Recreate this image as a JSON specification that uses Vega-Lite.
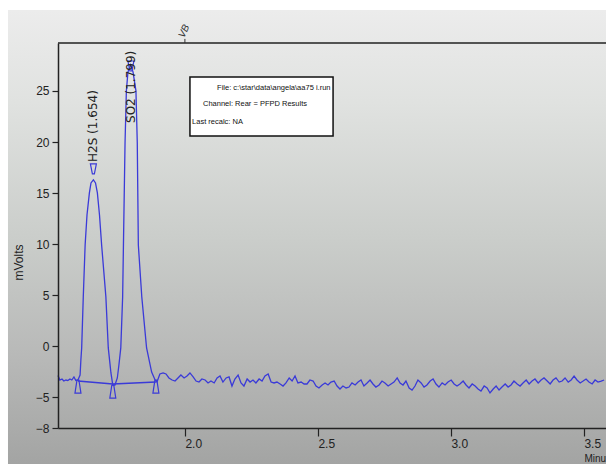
{
  "$schema": "https://vega.github.io/schema/vega-lite/v6.json",
  "width": 548,
  "height": 385,
  "autosize": {"type": "none"},
  "padding": {"left": 58, "top": 43, "right": 0, "bottom": 36},
  "background": "white",
  "config": {"view": {"stroke": null}},
  "datasets": {
    "trace": [
      {"t":1.523,"mv":-2.85},{"t":1.530,"mv":-3.3},{"t":1.538,"mv":-3.2},{"t":1.545,"mv":-3.4},{"t":1.553,"mv":-3.3},{"t":1.560,"mv":-3.35},{"t":1.568,"mv":-3.2},{"t":1.575,"mv":-3.3},{"t":1.583,"mv":-3.0},{"t":1.590,"mv":-3.35},{"t":1.598,"mv":-3.3},
      {"t":1.606,"mv":-2.81},{"t":1.609,"mv":-1.34},{"t":1.612,"mv":-0.16},{"t":1.618,"mv":4.83},{"t":1.625,"mv":9.92},{"t":1.632,"mv":12.86},{"t":1.641,"mv":15.02},{"t":1.647,"mv":16.0},{"t":1.656,"mv":16.29},{"t":1.664,"mv":16.0},{"t":1.671,"mv":15.02},{"t":1.679,"mv":12.86},{"t":1.687,"mv":9.92},{"t":1.703,"mv":4.83},{"t":1.712,"mv":-0.16},{"t":1.722,"mv":-2.61},{"t":1.729,"mv":-3.79},{"t":1.737,"mv":-3.79},{"t":1.746,"mv":-3.1},{"t":1.752,"mv":-1.83},{"t":1.759,"mv":-0.16},{"t":1.766,"mv":4.83},{"t":1.769,"mv":9.92},{"t":1.775,"mv":19.91},{"t":1.780,"mv":25.01},{"t":1.786,"mv":26.87},{"t":1.796,"mv":27.55},{"t":1.805,"mv":26.87},{"t":1.816,"mv":25.01},{"t":1.821,"mv":19.91},{"t":1.825,"mv":9.92},{"t":1.838,"mv":4.83},{"t":1.856,"mv":-0.16},{"t":1.875,"mv":-2.52},{"t":1.888,"mv":-3.3},
      {"t":1.895,"mv":-3.50},{"t":1.906,"mv":-2.71},{"t":1.918,"mv":-2.61},{"t":1.929,"mv":-2.71},{"t":1.940,"mv":-3.10},{"t":1.952,"mv":-3.30},{"t":1.963,"mv":-3.40},{"t":1.974,"mv":-3.10},{"t":1.985,"mv":-2.81},{"t":1.997,"mv":-3.10},
      {"t":2.008,"mv":-2.91},{"t":2.019,"mv":-2.61},{"t":2.031,"mv":-3.00},{"t":2.042,"mv":-3.40},{"t":2.053,"mv":-3.50},{"t":2.064,"mv":-3.20},{"t":2.076,"mv":-3.30},{"t":2.087,"mv":-3.59},{"t":2.098,"mv":-3.40},{"t":2.110,"mv":-3.59},
      {"t":2.121,"mv":-3.10},{"t":2.132,"mv":-2.91},{"t":2.143,"mv":-3.50},{"t":2.155,"mv":-3.10},{"t":2.166,"mv":-3.00},{"t":2.177,"mv":-3.89},{"t":2.188,"mv":-3.20},{"t":2.200,"mv":-2.81},{"t":2.211,"mv":-3.59},{"t":2.222,"mv":-3.89},
      {"t":2.234,"mv":-3.20},{"t":2.245,"mv":-3.50},{"t":2.256,"mv":-3.30},{"t":2.267,"mv":-3.59},{"t":2.279,"mv":-3.20},{"t":2.290,"mv":-3.40},{"t":2.301,"mv":-2.91},{"t":2.313,"mv":-2.71},{"t":2.324,"mv":-3.50},{"t":2.335,"mv":-3.59},
      {"t":2.346,"mv":-3.50},{"t":2.358,"mv":-3.69},{"t":2.369,"mv":-3.89},{"t":2.380,"mv":-3.59},{"t":2.392,"mv":-3.10},{"t":2.403,"mv":-3.40},{"t":2.414,"mv":-2.91},{"t":2.425,"mv":-3.59},{"t":2.437,"mv":-3.50},{"t":2.448,"mv":-3.69},
      {"t":2.459,"mv":-3.69},{"t":2.470,"mv":-3.30},{"t":2.482,"mv":-3.40},{"t":2.493,"mv":-3.89},{"t":2.504,"mv":-4.08},{"t":2.516,"mv":-3.79},{"t":2.527,"mv":-3.59},{"t":2.538,"mv":-3.79},{"t":2.549,"mv":-3.50},{"t":2.561,"mv":-3.40},
      {"t":2.572,"mv":-3.89},{"t":2.583,"mv":-4.18},{"t":2.594,"mv":-3.89},{"t":2.606,"mv":-4.08},{"t":2.617,"mv":-3.99},{"t":2.628,"mv":-3.59},{"t":2.640,"mv":-3.79},{"t":2.651,"mv":-3.50},{"t":2.662,"mv":-3.30},{"t":2.673,"mv":-3.89},
      {"t":2.685,"mv":-3.59},{"t":2.696,"mv":-3.30},{"t":2.707,"mv":-3.69},{"t":2.718,"mv":-3.99},{"t":2.730,"mv":-3.79},{"t":2.741,"mv":-3.40},{"t":2.752,"mv":-3.59},{"t":2.764,"mv":-3.89},{"t":2.775,"mv":-3.69},{"t":2.786,"mv":-3.50},
      {"t":2.798,"mv":-3.10},{"t":2.809,"mv":-3.59},{"t":2.820,"mv":-3.79},{"t":2.831,"mv":-3.40},{"t":2.843,"mv":-4.08},{"t":2.854,"mv":-4.28},{"t":2.865,"mv":-3.89},{"t":2.876,"mv":-3.30},{"t":2.888,"mv":-3.59},{"t":2.899,"mv":-3.99},
      {"t":2.910,"mv":-3.79},{"t":2.922,"mv":-3.40},{"t":2.933,"mv":-3.20},{"t":2.944,"mv":-3.69},{"t":2.955,"mv":-3.99},{"t":2.967,"mv":-3.59},{"t":2.978,"mv":-3.79},{"t":2.989,"mv":-3.50},{"t":3.001,"mv":-3.30},{"t":3.012,"mv":-3.69},
      {"t":3.023,"mv":-3.89},{"t":3.034,"mv":-3.69},{"t":3.046,"mv":-3.40},{"t":3.057,"mv":-3.79},{"t":3.068,"mv":-4.08},{"t":3.080,"mv":-3.69},{"t":3.091,"mv":-3.89},{"t":3.102,"mv":-4.18},{"t":3.113,"mv":-4.38},{"t":3.125,"mv":-3.89},
      {"t":3.136,"mv":-4.08},{"t":3.147,"mv":-4.57},{"t":3.159,"mv":-4.18},{"t":3.170,"mv":-3.89},{"t":3.181,"mv":-4.28},{"t":3.192,"mv":-3.99},{"t":3.204,"mv":-3.69},{"t":3.215,"mv":-3.99},{"t":3.226,"mv":-3.79},{"t":3.237,"mv":-3.40},
      {"t":3.249,"mv":-3.69},{"t":3.260,"mv":-3.89},{"t":3.271,"mv":-3.59},{"t":3.283,"mv":-3.30},{"t":3.294,"mv":-3.69},{"t":3.305,"mv":-3.40},{"t":3.316,"mv":-3.20},{"t":3.328,"mv":-3.59},{"t":3.339,"mv":-3.30},{"t":3.350,"mv":-3.10},
      {"t":3.362,"mv":-3.40},{"t":3.373,"mv":-3.69},{"t":3.384,"mv":-3.30},{"t":3.395,"mv":-3.10},{"t":3.407,"mv":-3.50},{"t":3.418,"mv":-3.40},{"t":3.429,"mv":-3.10},{"t":3.441,"mv":-3.50},{"t":3.452,"mv":-3.30},{"t":3.463,"mv":-2.91},
      {"t":3.474,"mv":-3.30},{"t":3.486,"mv":-3.59},{"t":3.497,"mv":-3.40},{"t":3.508,"mv":-3.20},{"t":3.519,"mv":-3.50},{"t":3.531,"mv":-3.69},{"t":3.542,"mv":-3.30},{"t":3.553,"mv":-3.50},{"t":3.565,"mv":-3.40},{"t":3.576,"mv":-3.30}
    ],
    "baseline": [{"t":1.598,"mv":-3.40},{"t":1.729,"mv":-3.69},{"t":1.891,"mv":-3.50}],
    "markers": [
      {"t":1.656,"mv":17.37,"kind":"apex"},
      {"t":1.797,"mv":27.45,"kind":"apex"},
      {"t":1.598,"mv":-3.94,"kind":"base"},
      {"t":1.729,"mv":-4.43,"kind":"base"},
      {"t":1.891,"mv":-3.94,"kind":"base"}
    ],
    "peaks": [
      {"label":"H2S (1.654)","t":1.654,"label_mv":18.05},
      {"label":"SO2 (1.799)","t":1.797,"label_mv":21.87}
    ],
    "notes": [
      {"text":"File: c:\\star\\data\\angela\\aa75 i.run","t":2.121,"mv":25.30},
      {"text":"Channel: Rear = PFPD Results","t":2.068,"mv":23.73},
      {"text":"Last recalc: NA","t":2.027,"mv":21.97}
    ],
    "events": [{"t": 2.0, "code": "VB"}]
  },
  "layer": [
    {
      "data": {"values": [{}]},
      "mark": {"type": "rect", "fill": {"gradient": "linear", "x1": 0, "y1": 0, "x2": 0, "y2": 1, "stops": [{"offset": 0, "color": "#ececec"}, {"offset": 0.2, "color": "#e0e2e0"}, {"offset": 0.5, "color": "#cacdca"}, {"offset": 0.75, "color": "#b8b9b8"}, {"offset": 1, "color": "#a2a3a2"}]}},
      "encoding": {
        "x": {"datum": 1.335, "type": "quantitative", "scale": {"domain": [1.523, 3.583], "nice": false, "zero": false},
              "axis": {"orient": "bottom", "values": [2.0, 2.5, 3.0, 3.5], "format": ".1f", "grid": false, "domain": true, "domainColor": "#222", "domainWidth": 1.5, "ticks": true, "tickColor": "#222", "tickSize": 8, "tickWidth": 1.2, "labelAlign": "left", "labelBaseline": "top", "labelPadding": 2, "labelFontSize": 12, "labelFont": "Liberation Sans", "labelColor": "#222", "labelFlush": false, "title": "Minutes", "titleX": 526, "titleY": 30, "titleAlign": "left", "titleBaseline": "middle", "titleFontSize": 10, "titleFontWeight": "normal", "titleFont": "Liberation Sans", "titleColor": "#222", "zindex": 1}},
        "x2": {"datum": 3.7},
        "y": {"datum": 32.94, "type": "quantitative", "scale": {"domain": [-8, 29.7], "nice": false, "zero": false},
              "axis": {"orient": "left", "values": [-8, -5, 0, 5, 10, 15, 20, 25], "grid": false, "domain": true, "domainColor": "#222", "domainWidth": 1.5, "ticks": true, "tickColor": "#222", "tickSize": 6, "tickWidth": 1.2, "labelPadding": 3, "labelFontSize": 12, "labelFont": "Liberation Sans", "labelColor": "#222", "labelFlush": false, "title": "mVolts", "titleX": -40, "titleY": 219, "titleAngle": 270, "titleAlign": "center", "titleBaseline": "middle", "titleFontSize": 12, "titleFontWeight": "normal", "titleFont": "Liberation Sans", "titleColor": "#222", "zindex": 1}},
        "y2": {"datum": -12.1}
      }
    },
    {
      "data": {"values": [{}]},
      "mark": {"type": "rule", "color": "#222", "strokeWidth": 1.5},
      "encoding": {
        "y": {"datum": 29.7, "type": "quantitative"}
      }
    },
    {
      "data": {"name": "events"},
      "mark": {"type": "rule", "color": "#333", "strokeWidth": 1},
      "encoding": {
        "x": {"field": "t", "type": "quantitative"},
        "y": {"datum": 29.7, "type": "quantitative"},
        "y2": {"datum": 30.1}
      }
    },
    {
      "data": {"name": "events"},
      "mark": {"type": "text", "angle": 295, "align": "left", "baseline": "middle", "fontSize": 10, "fontStyle": "italic", "font": "Liberation Sans", "color": "#333", "dy": -4},
      "encoding": {
        "x": {"field": "t", "type": "quantitative"},
        "y": {"datum": 30.1, "type": "quantitative"},
        "text": {"field": "code"}
      }
    },
    {
      "data": {"values": [{}]},
      "mark": {"type": "rect", "fill": "white", "stroke": "#111", "strokeWidth": 1.5},
      "encoding": {
        "x": {"datum": 2.019, "type": "quantitative"},
        "x2": {"datum": 2.557},
        "y": {"datum": 26.38, "type": "quantitative"},
        "y2": {"datum": 20.6}
      }
    },
    {
      "data": {"name": "notes"},
      "mark": {"type": "text", "align": "left", "baseline": "middle", "fontSize": 7.5, "font": "Liberation Sans", "color": "#111"},
      "encoding": {
        "x": {"field": "t", "type": "quantitative"},
        "y": {"field": "mv", "type": "quantitative"},
        "text": {"field": "text"}
      }
    },
    {
      "data": {"name": "baseline"},
      "mark": {"type": "line", "color": "#3a3ad8", "strokeWidth": 1.4},
      "encoding": {
        "x": {"field": "t", "type": "quantitative"},
        "y": {"field": "mv", "type": "quantitative"}
      }
    },
    {
      "data": {"name": "trace"},
      "mark": {"type": "line", "color": "#3a3ad8", "strokeWidth": 1.3},
      "encoding": {
        "x": {"field": "t", "type": "quantitative"},
        "y": {"field": "mv", "type": "quantitative"}
      }
    },
    {
      "data": {"name": "markers"},
      "mark": {"type": "point", "filled": false, "color": "#3a3ad8", "strokeWidth": 1.2, "opacity": 1},
      "encoding": {
        "x": {"field": "t", "type": "quantitative"},
        "y": {"field": "mv", "type": "quantitative"},
        "shape": {"field": "kind", "type": "nominal", "scale": {"domain": ["apex", "base"], "range": ["M-0.6,-1L0.6,-1L0.2,1L-0.2,1Z", "M-0.15,-1L0.15,-1L0.46,1L-0.46,1Z"]}, "legend": null},
        "size": {"field": "kind", "type": "nominal", "scale": {"domain": ["apex", "base"], "range": [100, 169]}, "legend": null}
      }
    },
    {
      "data": {"name": "peaks"},
      "mark": {"type": "text", "angle": 270, "align": "left", "baseline": "middle", "fontSize": 12, "font": "DejaVu Sans", "color": "#222"},
      "encoding": {
        "x": {"field": "t", "type": "quantitative"},
        "y": {"field": "label_mv", "type": "quantitative"},
        "text": {"field": "label"}
      }
    }
  ]
}
